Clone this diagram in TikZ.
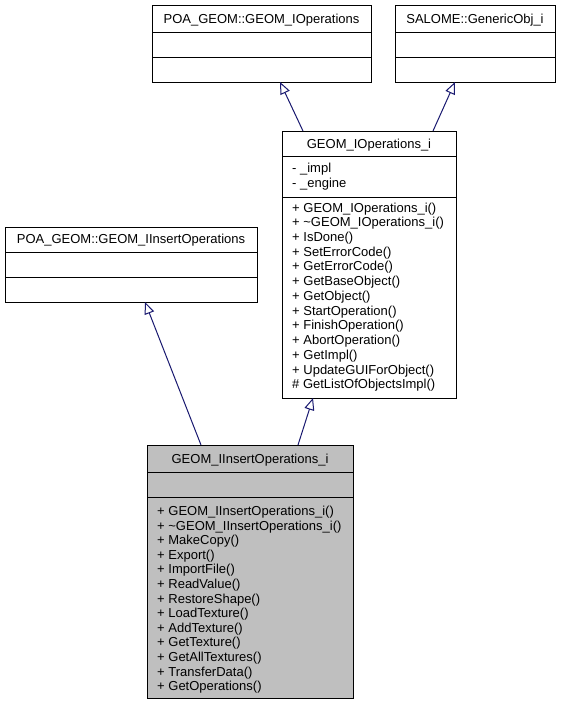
\documentclass[tikz,border=0pt]{standalone}
\usepackage{fontspec}
\setmainfont{Liberation Sans}
\usetikzlibrary{arrows.meta}
\definecolor{edgeblue}{HTML}{191970}
\definecolor{hilite}{HTML}{BFBFBF}
\begin{document}
\begin{tikzpicture}[x=1pt,y=-1pt,
  box/.style={draw=black, line width=1pt, inner sep=0pt, outer sep=0pt, anchor=north west},
  txt/.style={inner sep=0pt, font=\fontsize{13}{14.7}\selectfont},
  inh/.style={draw=edgeblue, line width=1pt, -{Triangle[open, length=12pt, width=10pt]}}]
\useasboundingbox (0,0) rectangle (561,705);
\fill[white] (0,0) rectangle (561,705);

% boxes
\node[box, minimum width=219pt, minimum height=77pt] (A) at (152,5) {};
\node[box, minimum width=160pt, minimum height=77pt] (B) at (395,5) {};
\node[box, minimum width=174pt, minimum height=267pt] (C) at (282,131) {};
\node[box, minimum width=252pt, minimum height=75pt] (D) at (5,227) {};
\node[box, fill=hilite, minimum width=206pt, minimum height=253pt] (E) at (147,445) {};

% dividers
\draw[line width=1pt] (A.west |- 0,32) -- (A.east |- 0,32) (A.west |- 0,57) -- (A.east |- 0,57);
\draw[line width=1pt] (B.west |- 0,32) -- (B.east |- 0,32) (B.west |- 0,57) -- (B.east |- 0,57);
\draw[line width=1pt] (C.west |- 0,156) -- (C.east |- 0,156) (C.west |- 0,197) -- (C.east |- 0,197);
\draw[line width=1pt] (D.west |- 0,252) -- (D.east |- 0,252) (D.west |- 0,277) -- (D.east |- 0,277);
\draw[line width=1pt] (E.west |- 0,472) -- (E.east |- 0,472) (E.west |- 0,497) -- (E.east |- 0,497);

% titles
\node[txt, anchor=base] (At) at (261.5,23) {POA\_GEOM::GEOM\_IOperations};
\node[txt, anchor=base] (Bt) at (475,23) {SALOME::GenericObj\_i};
\node[txt, anchor=base] (Ct) at (369,148.4) {GEOM\_IOperations\_i};
\node[txt, anchor=base] (Dt) at (131,243) {POA\_GEOM::GEOM\_IInsertOperations};
\node[txt, anchor=base] (Et) at (250,463.7) {GEOM\_IInsertOperations\_i};

% attributes of C
\node[txt, anchor=base west] (Ca1) at (292,172.7) {- \_impl};
\node[txt, anchor=base west] (Ca2) at (292,187.4) {- \_engine};

% methods of C
\foreach \t [count=\i from 0] in {%
  + GEOM\_IOperations\_i(),
  + \textasciitilde GEOM\_IOperations\_i(),
  + IsDone(),
  + SetErrorCode(),
  + GetErrorCode(),
  + GetBaseObject(),
  + GetObject(),
  + StartOperation(),
  + FinishOperation(),
  + AbortOperation(),
  + GetImpl(),
  + UpdateGUIForObject(),
  \# GetListOfObjectsImpl()}
  \node[txt, anchor=base west] (Cm\i) at (292,212+14.73*\i) {\t};

% methods of E
\foreach \t [count=\i from 0] in {%
  + GEOM\_IInsertOperations\_i(),
  + \textasciitilde GEOM\_IInsertOperations\_i(),
  + MakeCopy(),
  + Export(),
  + ImportFile(),
  + ReadValue(),
  + RestoreShape(),
  + LoadTexture(),
  + AddTexture(),
  + GetTexture(),
  + GetAllTextures(),
  + TransferData(),
  + GetOperations()}
  \node[txt, anchor=base west] (Em\i) at (157,515.4+14.6*\i) {\t};

% inheritance connectors
\draw[inh] (C.north -| 303,0) -- (A.south -| 280,0);
\draw[inh] (C.north -| 433,0) -- (B.south -| 455,0);
\draw[inh] (E.north -| 201,0) -- (D.south -| 145,0);
\draw[inh] (E.north -| 298,0) -- (C.south -| 313,0);
\end{tikzpicture}
\end{document}
